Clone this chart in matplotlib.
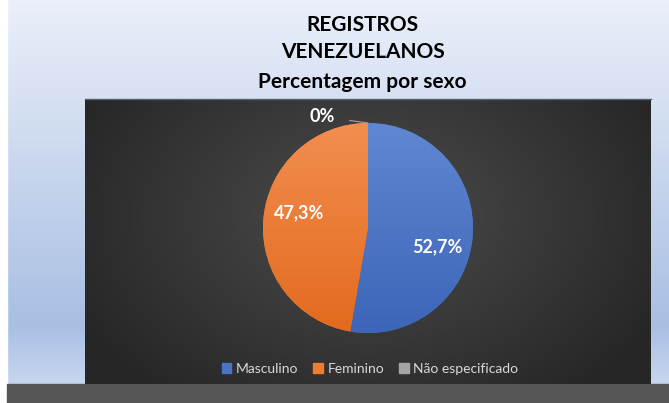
import numpy as np
import matplotlib
matplotlib.use('Agg')
import matplotlib.pyplot as plt
from matplotlib.patches import Rectangle

# data
categorias = ['Masculino', 'Feminino', 'Não especificado']
percentuais = [52.7, 47.3, 0.0]
cores = ['#4a74c4', '#ed7d31', '#a5a5a5']
cores_claras = ['#5f87d2', '#f28e4f', '#bdbdbd']
cores_escuras = ['#3d65b8', '#e36a1f', '#8f8f8f']
titulo = ['REGISTROS', 'VENEZUELANOS', 'Percentagem por sexo']

W, H = 669, 403
plt.rcParams['font.family'] = ['Lato', 'DejaVu Sans']
fig = plt.figure(figsize=(W / 100, H / 100), dpi=100)

# background (light blue vertical gradient)
bg = fig.add_axes([0, 0, 1, 1])
bg.axis('off')
ys = np.linspace(0, 1, 200)[:, None]
top = np.array([0.92, 0.94, 0.98])
mid = np.array([0.66, 0.75, 0.89])
bot = np.array([0.78, 0.84, 0.94])
grad = np.where(ys < 0.85, top + (mid - top) * (ys / 0.85), mid + (bot - mid) * ((ys - 0.85) / 0.15))
grad = np.repeat(grad[:, None, :], 2, axis=1).reshape(200, 2, 3)
bg.imshow(grad, extent=[7, W, 384, 0], aspect='auto', zorder=0)
bg.add_patch(Rectangle((0, 0), 7, H, color='white', zorder=1))
bg.add_patch(Rectangle((7, 384), W - 7, H - 384, color='#565656', zorder=1))

# dark plot area with radial gradient
x0, x1, y0, y1 = 85, 651, 99, 384
xx, yy = np.meshgrid(np.linspace(x0, x1, 300), np.linspace(y0, y1, 150))
d = np.sqrt(((xx - 368) / 330) ** 2 + ((yy - 215) / 230) ** 2)
d = np.clip(d, 0, 1)
v = 0.30 - 0.15 * d
bg.imshow(np.dstack([v, v, v]), extent=[x0, x1, y1, y0], aspect='auto', zorder=2)
bg.plot([x0, x1], [y0, y0], color='#5a5f70', lw=1, zorder=3)
bg.set_xlim(0, W)
bg.set_ylim(H, 0)

# title, one line at a time (baselines in px from top)
for linha, yb in zip(titulo, [31, 58, 88]):
    fig.text(0.5 + 28 / W, 1 - yb / H, linha, ha='center', va='baseline',
             fontsize=15, fontweight='bold', color='black')

# pie
cx, cy, r = 368, 228, 105
s = 2.4 * r
ax = fig.add_axes([(cx - s / 2) / W, 1 - (cy + s / 2) / H, s / W, s / H])
wedges, _ = ax.pie(percentuais, colors=cores, startangle=90, counterclock=False,
                   radius=1, wedgeprops=dict(linewidth=0))
for w, c1, c2 in zip(wedges, cores_claras, cores_escuras):
    t = np.linspace(0, 1, 100)[:, None]
    g = np.array(matplotlib.colors.to_rgb(c1)) * (1 - t) + np.array(matplotlib.colors.to_rgb(c2)) * t
    g = g[:, None, :]
    im = ax.imshow(g, extent=[-1, 1, -1, 1], aspect='auto', zorder=2)
    im.set_clip_path(w)

for w, p in zip(wedges, percentuais):
    txt = f'{p:.1f}%'.replace('.', ',') if p > 0 else '0%'
    if p > 0:
        ang = np.deg2rad((w.theta1 + w.theta2) / 2 - 9)
        ax.text(0.68 * np.cos(ang), 0.68 * np.sin(ang) - 0.02, txt, ha='center', va='center',
                fontsize=13, fontweight='bold', color='white', zorder=5)
    else:
        ang = np.deg2rad(w.theta1)
        ax.annotate(txt, xy=(np.cos(ang), np.sin(ang)), xytext=(-0.44, 1.06),
                    ha='center', va='center', fontsize=13, fontweight='bold', color='white',
                    arrowprops=dict(arrowstyle='-', color='#9a9a9a', lw=0.9,
                                    shrinkA=9, shrinkB=0), zorder=5)
ax.set_xlim(-1.2, 1.2)
ax.set_ylim(-1.2, 1.2)
ax.axis('off')

# legend
handles = [Rectangle((0, 0), 1, 1, color=c) for c in cores]
fig.legend(handles, categorias, loc='center', bbox_to_anchor=(370 / W, 1 - 369 / H),
           ncol=3, frameon=False, fontsize=10, labelcolor='#d9d9d9',
           handlelength=0.7, handleheight=0.7, handletextpad=0.3, columnspacing=1.1)

fig.savefig('out.png', dpi=100)
